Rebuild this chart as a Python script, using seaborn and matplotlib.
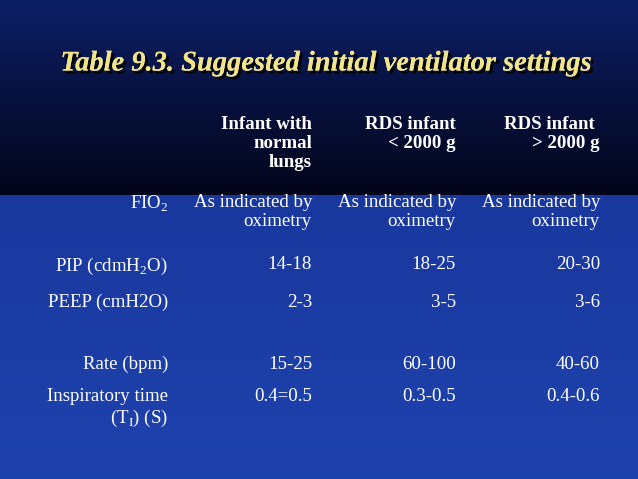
import numpy as np
import matplotlib
matplotlib.use("Agg")
import matplotlib.pyplot as plt
import matplotlib.patheffects as pe
import seaborn as sns

sns.set_theme(style="white", rc={"font.family": "Liberation Serif"})
plt.rcParams["mathtext.fontset"] = "custom"
plt.rcParams["mathtext.rm"] = "Liberation Serif"

title = "Table 9.3. Suggested initial ventilator settings"
col_headers = ["Infant with\nnormal\nlungs", "RDS infant\n< 2000 g", "RDS infant \n> 2000 g"]
row_labels = ["FIO$_2$", "PIP (cdmH$_2$O)", "PEEP (cmH2O)", "Rate (bpm)", "Inspiratory time\n(T$_\\mathrm{I}$) (S)"]
normal_lungs = ["As indicated by\noximetry", "14-18", "2-3", "15-25", "0.4=0.5"]
rds_small = ["As indicated by\noximetry", "18-25", "3-5", "60-100", "0.3-0.5"]
rds_large = ["As indicated by\noximetry", "20-30", "3-6", "40-60", "0.4-0.6"]

fig = plt.figure(figsize=(6.38, 4.79), dpi=100)
ax = fig.add_axes([0, 0, 1, 1])
ax.set_xlim(0, 638)
ax.set_ylim(479, 0)
ax.axis("off")

# background: dark top band, blue body
top = np.linspace(0, 1, 195)
c_top = np.outer(1 - top, [0.05, 0.12, 0.40]) + np.outer(top, [0.01, 0.02, 0.10])
bot = np.linspace(0, 1, 284)
c_bot = np.outer(1 - bot, [0.10, 0.22, 0.62]) + np.outer(bot, [0.12, 0.26, 0.68])
bg = np.vstack([c_top, c_bot])[:, None, :].repeat(638, axis=1)
ax.imshow(bg, extent=(0, 638, 479, 0), aspect="auto", zorder=0)

# title with shadow
ax.text(326, 64, title, ha="center", va="center", fontsize=20.5,
        fontweight="bold", fontstyle="italic", color="#f2e488", zorder=3,
        path_effects=[pe.withSimplePatchShadow(offset=(2, -2), shadow_rgbFace="black", alpha=1), pe.Normal()])

fs = 13.6
col_x = [312, 456, 600]
for x, h in zip(col_x, col_headers):
    ax.text(x, 116, h, ha="right", va="top", fontsize=fs,
            fontweight="bold", color="white", linespacing=1.15)

row_y = [194, 256, 294, 356, 388]
for y, lab, a, b, c in zip(row_y, row_labels, normal_lungs, rds_small, rds_large):
    ax.text(168, y, lab, ha="right", va="top", fontsize=fs, color="white", linespacing=1.2)
    for x, v in zip(col_x, [a, b, c]):
        ax.text(x, y, v, ha="right", va="top", fontsize=fs, color="white", linespacing=1.15)

fig.savefig("out.png", dpi=100)
